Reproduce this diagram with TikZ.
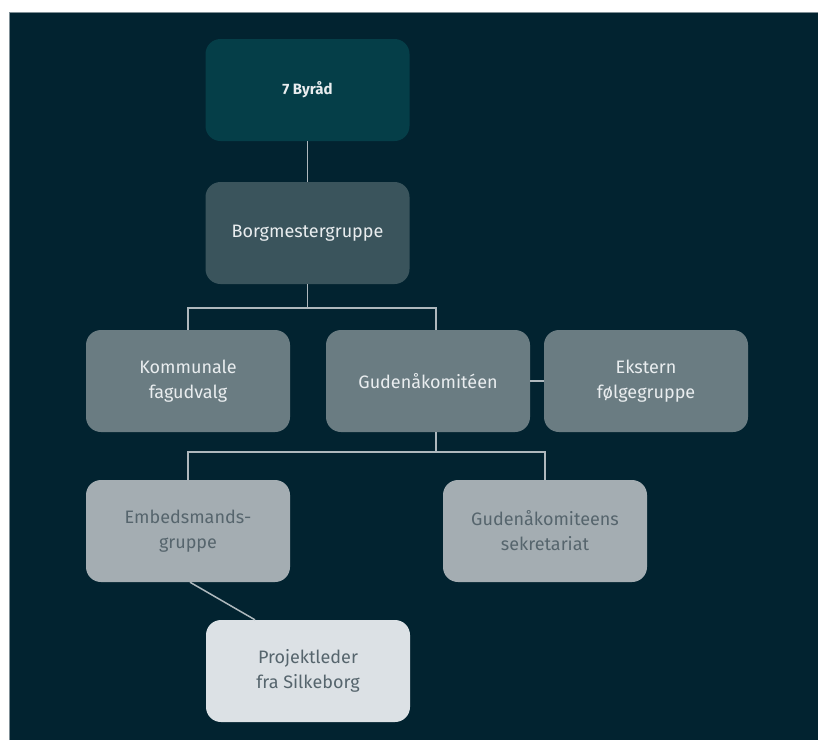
\documentclass[tikz,border=0pt]{standalone}
\usepackage{fontspec}
\setmainfont{Fira Sans}
\definecolor{bgdark}{HTML}{022330}
\definecolor{frameline}{HTML}{7F8F96}
\definecolor{lvlA}{HTML}{053E48}
\definecolor{lvlB}{HTML}{3A545C}
\definecolor{lvlC}{HTML}{6A7C82}
\definecolor{lvlD}{HTML}{A4ADB2}
\definecolor{lvlE}{HTML}{DCE1E5}
\definecolor{txtlight}{HTML}{E9EDEF}
\definecolor{txtdark}{HTML}{56656D}
\definecolor{conn}{HTML}{AEB8BD}
\tikzset{
  box/.style={rectangle, rounded corners=15pt, minimum width=204pt, minimum height=102pt,
    inner sep=0pt, align=center, font=\fontsize{18}{25}\selectfont},
  boxA/.style={box, fill=lvlA, text=txtlight, font=\fontsize{15}{18}\selectfont\bfseries},
  boxB/.style={box, fill=lvlB, text=txtlight},
  boxC/.style={box, fill=lvlC, text=txtlight},
  boxD/.style={box, fill=lvlD, text=txtdark},
  boxE/.style={box, fill=lvlE, text=txtdark},
  link/.style={draw=conn, line width=1.5pt}
}
\begin{document}
\begin{tikzpicture}[x=1pt,y=-1pt]
\useasboundingbox (0,0) rectangle (818,740);
\fill[white] (0,0) rectangle (818,740);
\fill[bgdark] (9,12) rectangle (818,740);
\draw[frameline, line width=0.8pt] (9,740) -- (9,12) -- (818,12);

\node[boxA] (byraad) at (307.5,90) {7 Byråd};
\node[boxB] (borg) at (307.5,233) {Borgmestergruppe};
\node[boxC] (komm) at (188,381) {Kommunale\\fagudvalg};
\node[boxC] (guden) at (428,381) {Gudenåkomitéen};
\node[boxC] (ekst) at (646,381) {Ekstern\\følgegruppe};
\node[boxD] (embed) at (188,531) {Embedsmands-\\gruppe};
\node[boxD] (sekr) at (545,531) {Gudenåkomiteens\\sekretariat};
\node[boxE] (proj) at (308,671) {Projektleder\\fra Silkeborg};

\draw[link] (byraad) -- (borg);
\draw[link] (borg.south) -- ++(0,24) coordinate (j1);
\draw[link] (j1) -| (komm.north);
\draw[link] (j1) -| ([xshift=8pt]guden.north);
\draw[link] (guden.east) -- (ekst.west);
\draw[link] ([xshift=8pt]guden.south) -- ++(0,20) coordinate (j2);
\draw[link] (j2) -| (embed.north);
\draw[link] (j2) -| (sekr.north);
\draw[link] ([xshift=2pt]embed.south) -- ([xshift=-53pt]proj.north);
\end{tikzpicture}
\end{document}
